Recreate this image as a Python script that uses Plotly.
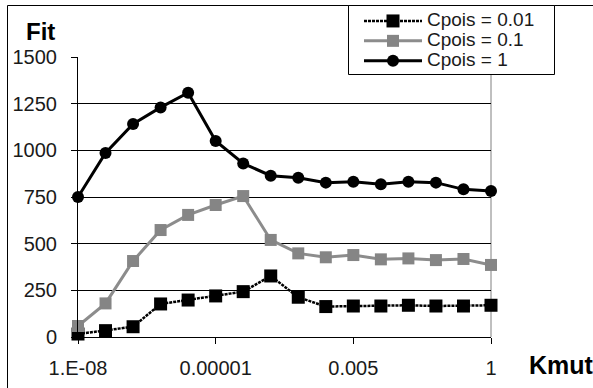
import plotly.graph_objects as go

kmut = ["1.E-08", "5.E-08", "1.E-07", "5.E-07", "1.E-06", "0.00001",
        "0.00005", "0.0001", "0.0005", "0.001", "0.005", "0.01",
        "0.05", "0.1", "0.5", "1"]
tick_labels = ["1.E-08", "0.00001", "0.005", "1"]
series_names = ["Cpois = 0.01", "Cpois = 0.1", "Cpois = 1"]

cpois_001 = [16, 34, 55, 177, 198, 220, 243, 327, 213, 163, 166, 166, 170, 166, 166, 170]
cpois_01 = [59, 180, 407, 573, 654, 707, 755, 520, 448, 427, 439, 416, 421, 412, 418, 386]
cpois_1 = [750, 986, 1141, 1230, 1309, 1050, 930, 864, 853, 827, 832, 818, 832, 827, 791, 782]

FONT = "Liberation Sans, Arial, sans-serif"

# pixel geometry of the plot area (for placing decorations)
PL, PR, PT, PB = 78, 491, 57, 337


def px_x(p):
    return (p - PL) / (PR - PL)


def px_y(p):
    return (PB - p) / (PB - PT)


def legend_name(s):
    return '<span style="font-size:19px">' + s + "</span>"


fig = go.Figure()
fig.add_trace(go.Scatter(
    x=kmut, y=cpois_001, name=legend_name(series_names[0]), mode="lines+markers",
    line=dict(color="black", width=2.5, dash="3px,1px"),
    marker=dict(symbol="square", size=13, color="black"),
    cliponaxis=False))
fig.add_trace(go.Scatter(
    x=kmut, y=cpois_01, name=legend_name(series_names[1]), mode="lines+markers",
    line=dict(color="#8c8c8c", width=3),
    marker=dict(symbol="square", size=12, color="#858585"),
    cliponaxis=False))
fig.add_trace(go.Scatter(
    x=kmut, y=cpois_1, name=legend_name(series_names[2]), mode="lines+markers",
    line=dict(color="black", width=3),
    marker=dict(symbol="circle", size=12, color="black"),
    cliponaxis=False))

fig.update_layout(
    width=593, height=388,
    margin=dict(l=PL, r=593 - PR, t=PT, b=388 - PB, autoexpand=False),
    paper_bgcolor="white", plot_bgcolor="white",
    font=dict(family=FONT, size=19, color="#1a1a1a"),
    legend=dict(
        x=px_x(359), y=px_y(6), xanchor="left", yanchor="top",
        bgcolor="rgba(0,0,0,0)", borderwidth=0,
        font=dict(size=13, family=FONT, color="#1a1a1a"),
        itemwidth=58, traceorder="normal"),
    xaxis=dict(
        type="category", categoryorder="array", categoryarray=kmut,
        range=[0, 15], tickmode="array",
        tickvals=[kmut[0], kmut[5], kmut[10], kmut[15]], ticktext=tick_labels,
        showline=True, linecolor="black", linewidth=1,
        ticks="outside", ticklen=6, tickcolor="black",
        showgrid=False, zeroline=False, ticklabelstandoff=7,
        tickfont=dict(size=20)),
    yaxis=dict(
        range=[0, 1500], dtick=250, tick0=0,
        showline=True, linecolor="black", linewidth=1,
        ticks="outside", ticklen=6, tickcolor="black",
        showgrid=True, gridcolor="black", gridwidth=1,
        zeroline=False, ticklabelstandoff=10, tickfont=dict(size=20)),
    annotations=[
        dict(text="<b>Fit</b>", xref="paper", yref="paper",
             x=px_x(40), y=px_y(31), xanchor="center", yanchor="middle",
             showarrow=False, font=dict(size=24, family=FONT, color="black")),
        dict(text="<b>Kmut</b>", xref="paper", yref="paper",
             x=px_x(527), y=px_y(365), xanchor="left", yanchor="middle",
             showarrow=False, font=dict(size=25, family=FONT, color="black")),
    ],
    shapes=[
        dict(type="line", xref="paper", yref="paper", x0=1, x1=1, y0=0, y1=1,
             line=dict(color="#808080", width=1), layer="below"),
        dict(type="rect", xref="paper", yref="paper",
             x0=px_x(7.5), x1=px_x(620), y0=px_y(420), y1=px_y(5.5),
             line=dict(color="black", width=1), layer="below"),
        # legend frame
        dict(type="rect", xref="paper", yref="paper",
             x0=px_x(348.5), x1=px_x(554.5), y0=px_y(74.5), y1=px_y(5.5),
             line=dict(color="black", width=1), fillcolor="white", layer="above"),
    ],
)

fig.write_html("out.html")
